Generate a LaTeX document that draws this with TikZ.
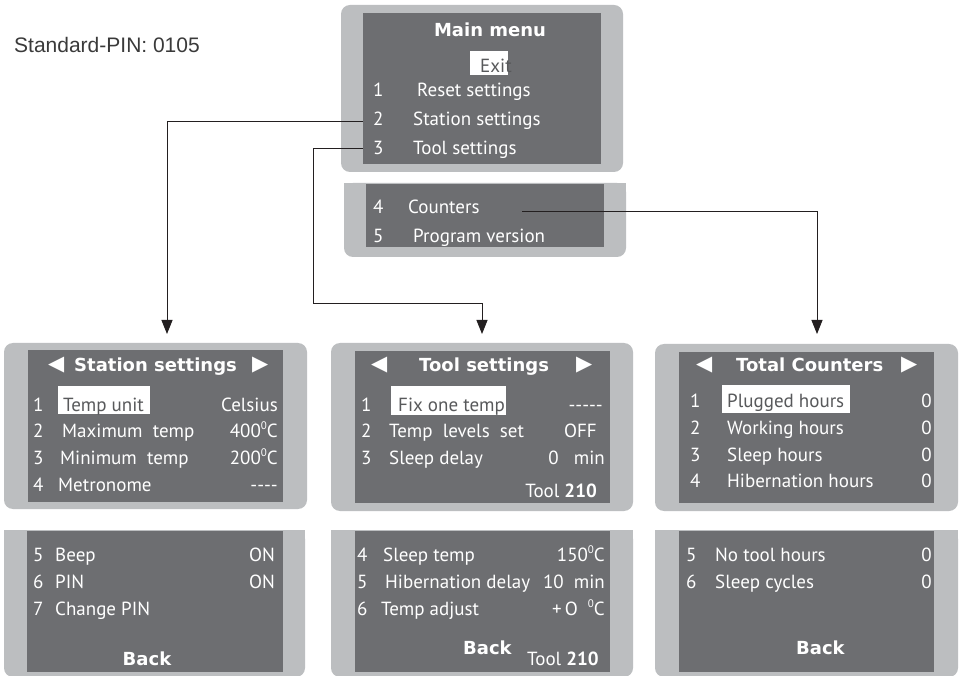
\documentclass[tikz,border=0pt]{standalone}
\usepackage{fontspec}
\setmainfont{PT Sans}
\newfontfamily\titf{DejaVu Sans}
\newfontfamily\pinf{Liberation Sans}
\usetikzlibrary{arrows.meta}
\definecolor{outerg}{HTML}{BCBEC0}
\definecolor{innerg}{HTML}{6D6E71}
\definecolor{linec}{HTML}{231F20}
\definecolor{hltext}{HTML}{58595B}
\definecolor{pintext}{HTML}{3A3A3A}
\newcommand\supz{\raisebox{0.75ex}{\fontsize{11}{11}\selectfont 0}}
\begin{document}
\begin{tikzpicture}[x=1pt,y=-1pt,
  box/.style={inner sep=0pt, outer sep=0pt, anchor=north west},
  outerbox/.style={box, fill=outerg, rounded corners=9pt},
  sharpbox/.style={box, fill=outerg},
  innerbox/.style={box, fill=innerg},
  hlbox/.style={box, fill=white},
  lbl/.style={inner sep=0pt, anchor=base west, text=white, font=\fontsize{19}{19}\selectfont},
  val/.style={lbl, anchor=base east},
  hl/.style={lbl, text=hltext},
  ttl/.style={inner sep=0pt, anchor=base west, text=white, font=\titf\bfseries\fontsize{18}{18}\selectfont},
  tri/.style={inner sep=0pt, anchor=west, text=white, font=\titf\fontsize{21}{21}\selectfont},
  conn/.style={draw=linec, line width=0.9pt},
  tip/.style={-{Triangle[length=14pt,width=11pt]}}
]
\useasboundingbox (0,0) rectangle (959,676);
\fill[white] (0,0) rectangle (959,676);

% PIN note
\node[inner sep=0pt, anchor=base west, text=pintext, font=\pinf\fontsize{21}{21}\selectfont] (pin) at (14,53) {Standard-PIN: 0105};

% ---------- Main menu ----------
\node[outerbox, minimum width=282, minimum height=167] (mm) at (341,5) {};
\node[innerbox, minimum width=238, minimum height=151] (mmIn) at (363,13) {};
\node[inner sep=0pt, anchor=base, text=white, font=\titf\bfseries\fontsize{18}{18}\selectfont] (mmT) at (490,37) {Main menu};
\node[hlbox, minimum width=38, minimum height=24] (exitB) at (470,51) {};
\node[hl] (exitT) at (480,73) {Exit};
\node[lbl] (mmn1) at (373,97) {1};
\node[lbl] (mmr1) at (417,97) {Reset settings};
\node[lbl] (mmn2) at (373,126) {2};
\node[lbl] (mmr2) at (413,126) {Station settings};
\node[lbl] (mmn3) at (373,155) {3};
\node[lbl] (mmr3) at (413,155) {Tool settings};

% second page of main menu
\node[outerbox, minimum width=282, minimum height=74] (mm2) at (344,183) {};
\node[sharpbox, minimum width=282, minimum height=30] (mm2s) at (344,183) {};
\node[innerbox, minimum width=238, minimum height=63] (mm2In) at (366,184) {};
\node[lbl] (mmn4) at (373,214) {4};
\node[lbl] (mmr4) at (408,214) {Counters};
\node[lbl] (mmn5) at (373,243) {5};
\node[lbl] (mmr5) at (413,243) {Program version};

% ---------- Station settings ----------
\node[outerbox, minimum width=303, minimum height=166] (stTop) at (4,343) {};
\node[innerbox, minimum width=255, minimum height=152] (stTopIn) at (28,350) {};
\node[tri] (stL) at (48,365) {◀};
\node[ttl] (stT) at (74,372) {Station settings};
\node[tri] (stR) at (252,365) {▶};
\node[hlbox, minimum width=92, minimum height=28] (stHL) at (58,386) {};
\node[lbl] (sn1) at (33,411) {1};
\node[hl]  (sr1) at (63,411) {Temp unit};
\node[val] (sv1) at (278,411) {Celsius};
\node[lbl] (sn2) at (33,437) {2};
\node[lbl] (sr2) at (62,437) {Maximum\ \ temp};
\node[val] (sv2) at (278,437) {400\supz C};
\node[lbl] (sn3) at (33,464) {3};
\node[lbl] (sr3) at (60,464) {Minimum\ \ temp};
\node[val] (sv3) at (278,464) {200\supz C};
\node[lbl] (sn4) at (33,491) {4};
\node[lbl] (sr4) at (58,491) {Metronome};
\node[val] (sv4) at (278,491) {-{}-{}-{}-};

\node[outerbox, minimum width=301, minimum height=147] (stBot) at (4,530) {};
\node[sharpbox, minimum width=301, minimum height=60] (stBots) at (4,530) {};
\node[innerbox, minimum width=256, minimum height=141] (stBotIn) at (27,531) {};
\node[lbl] (sn5) at (33,561) {5};
\node[lbl] (sr5) at (55,561) {Beep};
\node[val] (sv5) at (275,561) {ON};
\node[lbl] (sn6) at (33,588) {6};
\node[lbl] (sr6) at (55,588) {PIN};
\node[val] (sv6) at (275,588) {ON};
\node[lbl] (sn7) at (33,615) {7};
\node[lbl] (sr7) at (55,615) {Change PIN};
\node[ttl, anchor=base] (stBack) at (147,665) {Back};

% ---------- Tool settings ----------
\node[outerbox, minimum width=302, minimum height=168] (tTop) at (331,343) {};
\node[innerbox, minimum width=255, minimum height=152] (tTopIn) at (355,351) {};
\node[tri] (tL) at (371,365) {◀};
\node[ttl] (tT) at (419,372) {Tool settings};
\node[tri] (tR) at (576,365) {▶};
\node[hlbox, minimum width=115, minimum height=29] (tHL) at (391,386) {};
\node[lbl] (tn1) at (361,411) {1};
\node[hl]  (tr1) at (398,411) {Fix one temp};
\node[val] (tv1) at (603,411) {-{}-{}-{}-{}-};
\node[lbl] (tn2) at (361,437) {2};
\node[lbl] (tr2) at (389,437) {Temp\ \ levels\ \ set};
\node[val] (tv2) at (597,437) {OFF};
\node[lbl] (tn3) at (361,464) {3};
\node[lbl] (tr3) at (389,464) {Sleep delay};
\node[val] (tv3) at (605,464) {0\ \ \ min};
\node[val] (tTool1) at (597,497) {Tool \textbf{210}};

\node[outerbox, minimum width=302, minimum height=147] (tBot) at (331,530) {};
\node[sharpbox, minimum width=302, minimum height=60] (tBots) at (331,530) {};
\node[innerbox, minimum width=255, minimum height=141] (tBotIn) at (355,531) {};
\node[lbl] (tn4) at (357,561) {4};
\node[lbl] (tr4) at (383,561) {Sleep temp};
\node[val] (tv4) at (605,561) {150\supz C};
\node[lbl] (tn5) at (357,588) {5};
\node[lbl] (tr5) at (385,588) {Hibernation delay};
\node[val] (tv5) at (605,588) {10\ \ min};
\node[lbl] (tn6) at (357,615) {6};
\node[lbl] (tr6) at (381,615) {Temp adjust};
\node[val] (tv6) at (605,615) {+\,O\ \ \supz C};
\node[ttl] (tBack) at (463,654) {Back};
\node[lbl] (tTool2) at (527,665) {Tool \textbf{210}};

% ---------- Total counters ----------
\node[outerbox, minimum width=303, minimum height=167] (cTop) at (655,344) {};
\node[innerbox, minimum width=255, minimum height=151] (cTopIn) at (679,352) {};
\node[tri] (cL) at (696,365) {◀};
\node[ttl] (cT) at (736,372) {Total Counters};
\node[tri] (cR) at (901,365) {▶};
\node[hlbox, minimum width=128, minimum height=28] (cHL) at (722,385) {};
\node[lbl] (cn1) at (690,407) {1};
\node[hl]  (cr1) at (727,407) {Plugged hours};
\node[val] (cv1) at (932,407) {0};
\node[lbl] (cn2) at (690,434) {2};
\node[lbl] (cr2) at (727,434) {Working hours};
\node[val] (cv2) at (932,434) {0};
\node[lbl] (cn3) at (690,461) {3};
\node[lbl] (cr3) at (727,461) {Sleep hours};
\node[val] (cv3) at (932,461) {0};
\node[lbl] (cn4) at (690,487) {4};
\node[lbl] (cr4) at (727,487) {Hibernation hours};
\node[val] (cv4) at (932,487) {0};

\node[outerbox, minimum width=303, minimum height=147] (cBot) at (655,530) {};
\node[sharpbox, minimum width=303, minimum height=60] (cBots) at (655,530) {};
\node[innerbox, minimum width=255, minimum height=141] (cBotIn) at (679,531) {};
\node[lbl] (cn5) at (686,561) {5};
\node[lbl] (cr5) at (715,561) {No tool hours};
\node[val] (cv5) at (932,561) {0};
\node[lbl] (cn6) at (686,588) {6};
\node[lbl] (cr6) at (715,588) {Sleep cycles};
\node[val] (cv6) at (932,588) {0};
\node[ttl] (cBack) at (796,654) {Back};

% ---------- connectors ----------
\coordinate (r2) at (0,121);
\coordinate (r3) at (0,148);
\coordinate (stEntry) at (167,334);
\coordinate (tBend) at (313,303);
\coordinate (cStart) at (522,211);
\coordinate (cEntry) at (817,334);
\draw[conn, tip] (mmIn.west |- r2) -| (stEntry);
\draw[conn, tip, shorten >=9pt] (mmIn.west |- r3) -| (tBend) -| (tTop.north);
\draw[conn, tip] (cStart) -| (cEntry);
\end{tikzpicture}
\end{document}
